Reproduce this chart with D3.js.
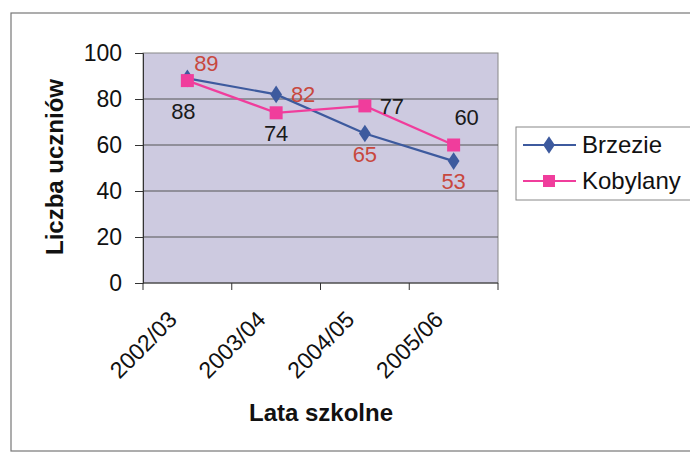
<!DOCTYPE html>
<html>
<head>
<meta charset="utf-8">
<script src="https://cdn.jsdelivr.net/npm/d3@7"></script>
<style>
  body { margin: 0; background: #fff; }
  text { font-family: Arial, "Liberation Sans", sans-serif; }
</style>
</head>
<body>
<svg width="690" height="454"></svg>
<script>
var years = ['2002/03', '2003/04', '2004/05', '2005/06'];
var brzezie = [89, 82, 65, 53];
var kobylany = [88, 74, 77, 60];
var yTicks = [0, 20, 40, 60, 80, 100];
var seriesNames = ['Brzezie', 'Kobylany'];

// where each data label sits relative to its point
var brzeziePlace = ['aboveRight', 'right', 'below', 'below'];
var kobylanyPlace = ['below', 'below', 'right', 'aboveRight'];

var svg = d3.select('svg');
var plotL = 143, plotR = 498, plotT = 53, plotB = 283;

// chart border
svg.append('rect').attr('x', 11).attr('y', 13).attr('width', 700).attr('height', 438)
  .attr('fill', 'none').attr('stroke', '#777').attr('stroke-width', 1.2);

var x = d3.scaleBand().domain(years).range([plotL, plotR]);
var y = d3.scaleLinear().domain([0, 100]).range([plotB, plotT]);

svg.append('rect').attr('x', plotL).attr('y', plotT).attr('width', plotR - plotL).attr('height', plotB - plotT)
  .attr('fill', '#cdcae0').attr('stroke', '#888').attr('stroke-width', 1);

// grid
svg.append('g').selectAll('line').data(yTicks.filter(function(d) { return d > 0 && d < 100; }))
  .enter().append('line')
  .attr('x1', plotL).attr('x2', plotR)
  .attr('y1', function(d) { return y(d); }).attr('y2', function(d) { return y(d); })
  .attr('stroke', '#555').attr('stroke-width', 1.2);

// y axis
var yAxis = svg.append('g').attr('transform', 'translate(' + plotL + ',0)')
  .call(d3.axisLeft(y).tickValues(yTicks).tickSize(8).tickPadding(13));
yAxis.select('.domain').attr('stroke', '#333');
yAxis.selectAll('line').attr('stroke', '#333');
yAxis.selectAll('text').attr('font-size', 23).attr('fill', '#111')
  .style('font-family', 'Arial, "Liberation Sans", sans-serif');

// x axis: ticks on band boundaries
var xAxis = svg.append('g').attr('transform', 'translate(0,' + plotB + ')');
xAxis.append('line').attr('x1', plotL).attr('x2', plotR).attr('stroke', '#333').attr('stroke-width', 1.2);
xAxis.selectAll('line.tick').data(d3.range(years.length + 1)).enter().append('line')
  .attr('class', 'tick')
  .attr('x1', function(i) { return plotL + i * x.step(); })
  .attr('x2', function(i) { return plotL + i * x.step(); })
  .attr('y1', 0).attr('y2', 7).attr('stroke', '#333');
xAxis.selectAll('text').data(years).enter().append('text')
  .attr('transform', function(d) {
    return 'translate(' + (x(d) + x.bandwidth() / 2 - 9) + ',38) rotate(-45)';
  })
  .attr('text-anchor', 'end')
  .attr('font-size', 23).attr('fill', '#111')
  .text(function(d) { return d; });

// axis titles
svg.append('text').attr('transform', 'translate(63,167) rotate(-90)')
  .attr('text-anchor', 'middle').attr('font-size', 24).attr('font-weight', 'bold').attr('fill', '#111')
  .text('Liczba uczniów');
svg.append('text').attr('x', 321).attr('y', 421)
  .attr('text-anchor', 'middle').attr('font-size', 24).attr('font-weight', 'bold').attr('fill', '#111')
  .text('Lata szkolne');

var line = d3.line()
  .x(function(d, i) { return x(years[i]) + x.bandwidth() / 2; })
  .y(function(d) { return y(d); });

var blue = '#3d5a9e', pink = '#f03d9c';

svg.append('path').datum(brzezie).attr('d', line)
  .attr('fill', 'none').attr('stroke', blue).attr('stroke-width', 2.2);
svg.append('path').datum(kobylany).attr('d', line)
  .attr('fill', 'none').attr('stroke', pink).attr('stroke-width', 2.2);

var diamond = d3.symbol().type(d3.symbolDiamond).size(90);
svg.append('g').selectAll('path').data(brzezie).enter().append('path')
  .attr('d', diamond)
  .attr('transform', function(d, i) { return 'translate(' + (x(years[i]) + x.bandwidth() / 2) + ',' + y(d) + ') scale(1.15,1)'; })
  .attr('fill', blue);
svg.append('g').selectAll('rect').data(kobylany).enter().append('rect')
  .attr('x', function(d, i) { return x(years[i]) + x.bandwidth() / 2 - 6.5; })
  .attr('y', function(d) { return y(d) - 6.5; })
  .attr('width', 13).attr('height', 13)
  .attr('fill', pink);

var offsets = {
  aboveRight: [19, -7],
  right: [27, 8],
  below: [0, 28]
};

function labels(data, place, color, extra) {
  svg.append('g').selectAll('text').data(data).enter().append('text')
    .attr('x', function(d, i) { return x(years[i]) + x.bandwidth() / 2 + offsets[place[i]][0] + (extra[i][0] || 0); })
    .attr('y', function(d, i) { return y(d) + offsets[place[i]][1] + (extra[i][1] || 0); })
    .attr('text-anchor', 'middle')
    .attr('font-size', 22).attr('fill', color)
    .text(function(d) { return d; });
}
labels(brzezie, brzeziePlace, '#c8483e', [[0, 0], [0, 0], [0, 0], [0, 0]]);
labels(kobylany, kobylanyPlace, '#1a1a1a', [[-4, 10], [0, 0], [0, 0], [-6, -13]]);

// legend
var lg = svg.append('g');
lg.append('rect').attr('x', 516).attr('y', 127).attr('width', 190).attr('height', 73)
  .attr('fill', '#fff').attr('stroke', '#888');
seriesNames.forEach(function(name, i) {
  var cy = 145 + i * 36;
  var c = i === 0 ? blue : pink;
  lg.append('line').attr('x1', 523).attr('x2', 576).attr('y1', cy).attr('y2', cy)
    .attr('stroke', c).attr('stroke-width', 2);
  if (i === 0) {
    lg.append('path').attr('d', diamond).attr('transform', 'translate(549,' + cy + ') scale(1.15,1)').attr('fill', c);
  } else {
    lg.append('rect').attr('x', 543).attr('y', cy - 6).attr('width', 12).attr('height', 12).attr('fill', c);
  }
  lg.append('text').attr('x', 582).attr('y', cy + 8).attr('font-size', 24).attr('fill', '#111').text(name);
});
</script>
</body>
</html>
